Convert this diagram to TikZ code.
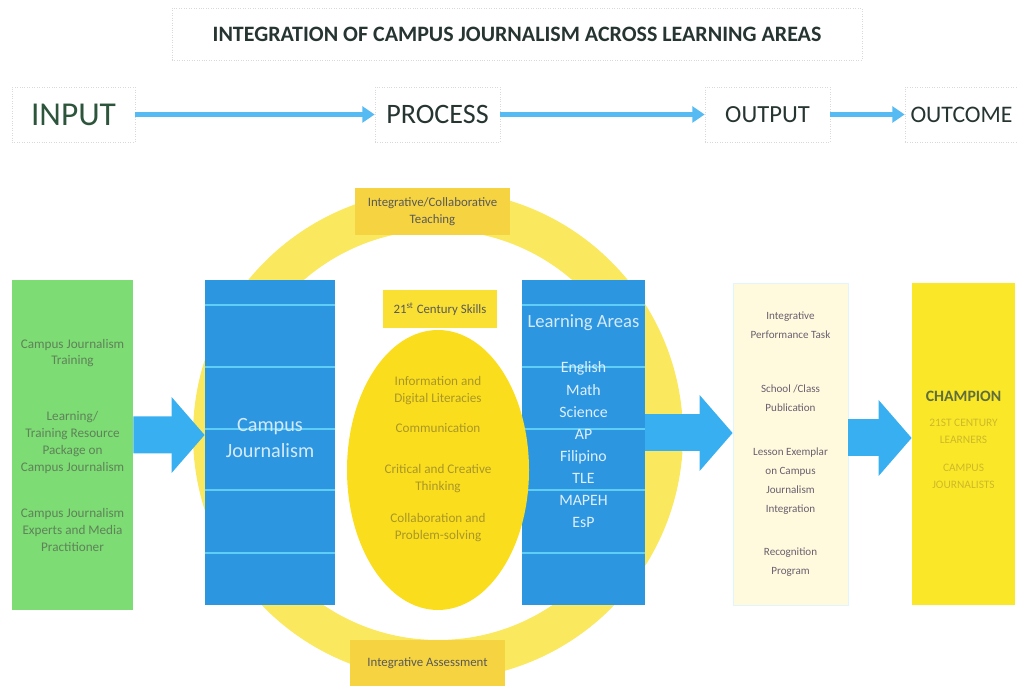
\documentclass[tikz,border=0pt]{standalone}
\usepackage{fontspec}
\setmainfont{Carlito}
\usepackage{tikz}
\usetikzlibrary{positioning}
\usetikzlibrary{arrows.meta}
\usetikzlibrary{shapes.geometric}
\definecolor{inputgreen}{RGB}{125,220,115}
\definecolor{boxblue}{RGB}{45,150,225}
\definecolor{stripeblue}{RGB}{95,205,245}
\definecolor{arrowblue}{RGB}{55,175,240}
\definecolor{ringyellow}{RGB}{250,232,95}
\definecolor{skillyellow}{RGB}{250,222,30}
\definecolor{tagyellow}{RGB}{246,212,65}
\definecolor{outputcream}{RGB}{255,250,222}
\definecolor{outcomeyellow}{RGB}{250,232,40}
\definecolor{headtext}{RGB}{38,52,50}
\definecolor{inputtext}{RGB}{45,85,60}
\tikzset{
  headbox/.style={draw=black!15, densely dotted, text=headtext, minimum height=1.1cm, inner sep=0pt},
  headarrow/.style={line width=2.6pt, arrowblue!85, -{Triangle[length=7pt,width=9pt]}},
  colbox/.style={minimum height=6.5cm, inner sep=0pt, align=center},
  stripe/.style={stripeblue, line width=1.6pt},
  tagbox/.style={fill=tagyellow, text=black!65, align=center, inner sep=0pt, font=\fontsize{7.3}{10}\selectfont},
  bigarrow/.style={line width=0.74cm, arrowblue, -{Triangle[length=0.66cm,width=1.48cm]}}
}

\begin{document}
\begin{tikzpicture}
\useasboundingbox (0,0) rectangle (20.36,13.72);

% Title
\node[headbox, minimum width=13.8cm, minimum height=1.04cm,
      font=\fontsize{12.5}{14}\selectfont\bfseries] (title) at (10.34,13.04)
  {INTEGRATION OF CAMPUS JOURNALISM ACROSS LEARNING AREAS};

% Header row
\node[headbox, minimum width=2.46cm, text=inputtext, font=\fontsize{19}{22}\selectfont] (input) at (1.47,11.43) {INPUT};
\node[headbox, minimum width=2.5cm, font=\fontsize{16}{19}\selectfont] (process) at (8.75,11.43) {PROCESS};
\node[headbox, minimum width=2.5cm, font=\fontsize{14}{17}\selectfont] (output) at (15.35,11.43) {OUTPUT};
\node[headbox, minimum width=2.26cm, font=\fontsize{13.5}{16}\selectfont] (outcome) at (19.23,11.43) {OUTCOME};

\draw[headarrow] (input) -- (process);
\draw[headarrow] (process) -- (output);
\draw[headarrow] (output) -- (outcome);

% Ring of teaching and assessment
\coordinate (hub) at (8.76,5.02);
\draw[ringyellow, line width=0.8cm] (hub) circle (4.5cm);
\node[tagbox, minimum width=3.1cm, minimum height=0.94cm] (teaching) at (8.65,9.49)
  {Integrative/Collaborative\\Teaching};
\node[tagbox, minimum width=3.1cm, minimum height=0.92cm] (assessment) at (8.55,0.46)
  {Integrative Assessment};

% Input
\node[colbox, fill=inputgreen, minimum width=2.42cm, minimum height=6.6cm, text={rgb,255:red,95;green,130;blue,90},
      font=\fontsize{7.5}{9.6}\selectfont] (resources) at (1.45,4.82)
  {Campus Journalism\\Training\\[0.78cm]Learning/\\Training Resource\\Package on\\Campus Journalism\\[0.58cm]Campus Journalism\\Experts and Media\\Practitioner};

% Campus journalism column
\node[colbox, fill=boxblue, minimum width=2.6cm] (campus) at (5.4,4.87) {};
\foreach \y in {7.62,6.38,5.14,3.92,2.66}
  \draw[stripe] (campus.west |- 0,\y) -- (campus.east |- 0,\y);
\node[text=white!80!boxblue, align=center, font=\fontsize{11.5}{15}\selectfont] (campuslabel) at (5.4,4.96) {Campus\\Journalism};

% Learning areas column
\node[colbox, fill=boxblue, minimum width=2.46cm] (areas) at (11.67,4.87) {};
\foreach \y in {7.62,6.38,5.14,3.92,2.66}
  \draw[stripe] (areas.west |- 0,\y) -- (areas.east |- 0,\y);
\node[text=white!80!boxblue, font=\fontsize{10.6}{12}\selectfont] (areaslabel) at (11.67,7.26) {Learning Areas};
\node[text=white!85!boxblue, align=center, font=\fontsize{9}{12.6}\selectfont] (subjects) at (11.67,4.82)
  {English\\Math\\Science\\AP\\Filipino\\TLE\\MAPEH\\EsP};

% 21st century skills
\node[ellipse, fill=skillyellow, minimum width=3.64cm, minimum height=5.6cm, inner sep=0pt] (skills) at (8.76,4.32) {};
\node[text={rgb,255:red,170;green,150;blue,40}, align=center, font=\fontsize{7.5}{9.6}\selectfont] (skilllist)
  at ([yshift=0.22cm]skills.center)
  {Information and\\Digital Literacies\\[0.26cm]Communication\\[0.5cm]Critical and Creative\\Thinking\\[0.3cm]Collaboration and\\Problem-solving};
\node[tagbox, fill={rgb,255:red,250;green,224;blue,50}, minimum width=2.28cm, minimum height=0.76cm] (skillstag) at (8.8,7.54)
  {21\textsuperscript{st} Century Skills};

% Output
\node[colbox, fill=outputcream, draw=cyan!12, minimum width=2.3cm, minimum height=6.44cm,
      text={rgb,255:red,105;green,95;blue,110}, font=\fontsize{6.3}{10.8}\selectfont] (products) at (15.81,4.84)
  {Integrative\\Performance Task\\[0.7cm]School /Class\\Publication\\[0.5cm]Lesson Exemplar\\on Campus\\Journalism\\Integration\\[0.48cm]Recognition\\Program};

% Outcome
\node[colbox, fill=outcomeyellow, minimum width=2.06cm, minimum height=6.44cm] (champion) at (19.27,4.84) {};
\node[align=center, text={rgb,255:red,205;green,185;blue,40}, font=\fontsize{6.5}{10}\selectfont] (championlabel) at (19.27,4.92)
  {{\fontsize{9}{11}\selectfont\bfseries\color[RGB]{95,110,60}CHAMPION}\\[0.14cm]21ST CENTURY\\LEARNERS\\[0.2cm]CAMPUS\\JOURNALISTS};

% Flow arrows
\draw[bigarrow] ([yshift=0.2cm]resources.east) -- ([yshift=0.15cm]campus.west);
\draw[bigarrow] ([yshift=0.19cm]areas.east) -- ([yshift=0.22cm]products.west);
\draw[bigarrow] ([yshift=0.12cm]products.east) -- ([yshift=0.12cm]champion.west);

\end{tikzpicture}
\end{document}
